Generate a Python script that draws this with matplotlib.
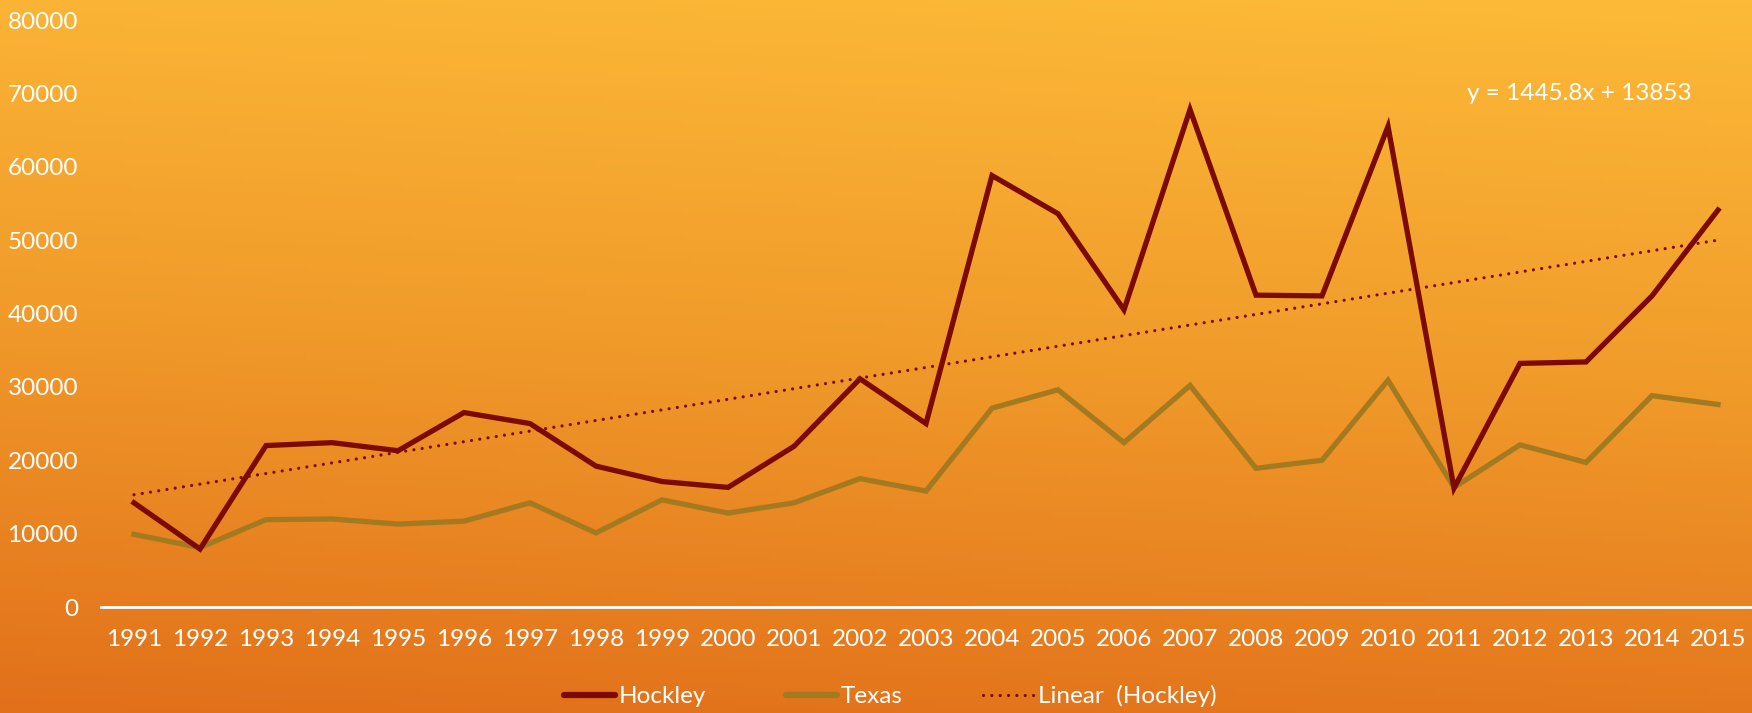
import matplotlib.pyplot as plt
import numpy as np
from matplotlib.colors import LinearSegmentedColormap
from matplotlib.lines import Line2D

years = [str(y) for y in range(1991, 2016)]
hockley = [14200, 7900, 22000, 22400, 21300, 26500, 25000, 19200, 17100, 16300,
           21900, 31100, 25000, 58800, 53600, 40500, 67800, 42500, 42400, 65500,
           16200, 33200, 33400, 42400, 54100]
texas = [9900, 8100, 11900, 12000, 11300, 11700, 14200, 10100, 14600, 12800,
         14200, 17500, 15800, 27100, 29600, 22400, 30200, 18900, 20000, 30900,
         16300, 22100, 19700, 28800, 27600]
# trendline as printed on the chart
slope = 1445.8
intercept = 13853
eq_label = "y = 1445.8x + 13853"

plt.rcParams['font.family'] = ['Lato', 'DejaVu Sans']

fig = plt.figure(figsize=(17.52, 7.13), dpi=100)

# background gradient, lighter top-right to darker bottom
bg = fig.add_axes([0, 0, 1, 1], zorder=0)
ny, nx = 200, 200
yy, xx = np.mgrid[0:1:ny * 1j, 0:1:nx * 1j]
t = 0.9 * yy + 0.1 * (1 - xx)
cmap = LinearSegmentedColormap.from_list("bg", ["#FDBA38", "#F09A2A", "#E2701A"])
bg.imshow(t, cmap=cmap, aspect='auto', extent=[0, 1, 0, 1], origin='upper')
bg.axis('off')

ax = fig.add_axes([101 / 1752, 106 / 713, 1650 / 1752, 587 / 713], zorder=1)
ax.patch.set_alpha(0)

x = np.arange(len(years))
ax.plot(x, hockley, color='#7A0A02', lw=3.8, solid_joinstyle='miter', zorder=3)
ax.plot(x, texas, color='#A37A20', lw=3.8, solid_joinstyle='miter', zorder=2)
trend = slope * (x + 1) + intercept
ax.plot(x, trend, color='#7A0A02', lw=2.3, linestyle=(0, (0.01, 2.6)),
        dash_capstyle='round', zorder=4)

ax.text(21.9, 70000, eq_label, color='white', fontsize=17.5, ha='center', va='center')

ax.set_xlim(-0.5, len(years) - 0.5)
ax.set_ylim(0, 80000)
ax.set_xticks(x)
ax.set_xticklabels(years)
ax.set_yticks(range(0, 80001, 10000))
ax.tick_params(axis='both', length=0, colors='white', labelsize=17.5)
ax.tick_params(axis='y', pad=16.5)
ax.tick_params(axis='x', pad=16)
for s in ['top', 'right', 'left']:
    ax.spines[s].set_visible(False)
ax.spines['bottom'].set_color('white')
ax.spines['bottom'].set_linewidth(2)

handles = [
    Line2D([], [], color='#7A0A02', lw=4.5, solid_capstyle='round'),
    Line2D([], [], color='#A37A20', lw=4.5, solid_capstyle='round'),
    Line2D([], [], color='#7A0A02', lw=2.3, linestyle=(0, (0.01, 2.6)), dash_capstyle='round'),
]
leg = fig.legend(handles, ['Hockley', 'Texas', 'Linear  (Hockley)'], loc='center',
                 bbox_to_anchor=(0.508, 1 - 696 / 713), ncol=3, frameon=False,
                 fontsize=17.5, labelcolor='white', handlelength=2.1, handletextpad=0.15,
                 columnspacing=3.3)

fig.savefig('out.png', dpi=100)
